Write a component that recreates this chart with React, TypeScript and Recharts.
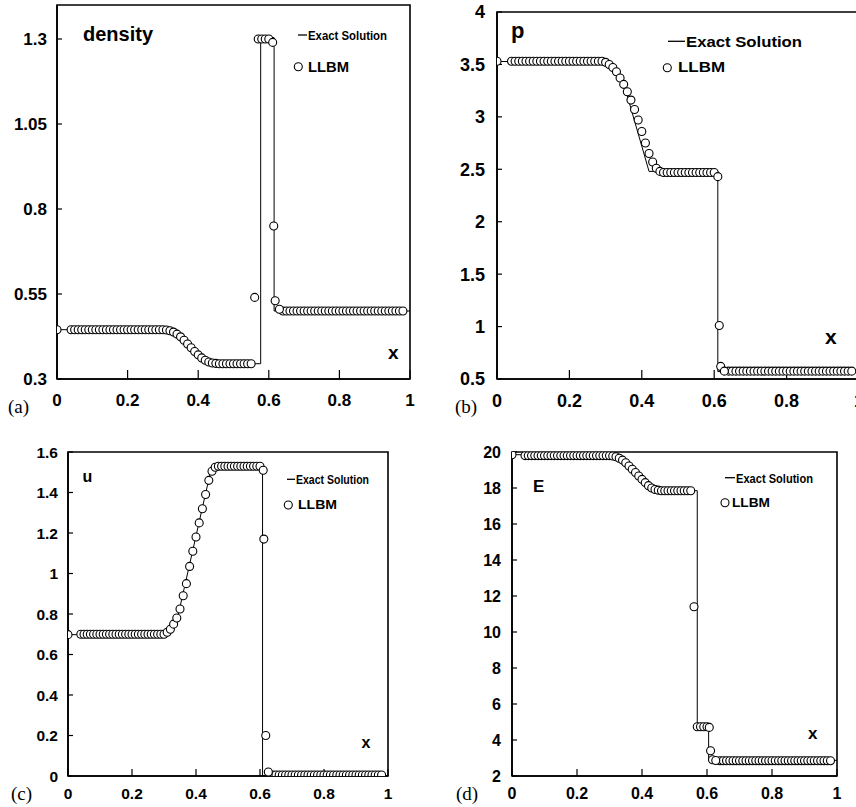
import React from "react";
import { ComposedChart, Line, Scatter, XAxis, YAxis, ReferenceArea } from "recharts";

// x axis ticks shared by the four panels
const xTicks = [0, 0.2, 0.4, 0.6, 0.8, 1];

// LLBM sample positions (common grid, shock points kept separately)
const llbmX = [
	0,
	0.04, 0.05, 0.06, 0.07, 0.08, 0.09, 0.1, 0.11, 0.12, 0.13, 0.14, 0.15, 0.16,
	0.17, 0.18, 0.19, 0.2, 0.21, 0.22, 0.23, 0.24, 0.25, 0.26, 0.27, 0.28, 0.29,
	0.3, 0.31, 0.32, 0.33, 0.34, 0.35, 0.36, 0.37, 0.38, 0.39, 0.4, 0.41, 0.42, 0.43, 0.44, 0.45,
	0.46, 0.47, 0.48, 0.49, 0.5, 0.51, 0.52, 0.53, 0.54, 0.55,
	0.56, 0.57, 0.58, 0.59, 0.6,
	0.64, 0.65, 0.66, 0.67, 0.68, 0.69, 0.7,
	0.71, 0.72, 0.73, 0.74, 0.75, 0.76, 0.77,
	0.78, 0.79, 0.8, 0.81, 0.82, 0.83, 0.84,
	0.85, 0.86, 0.87, 0.88, 0.89, 0.9, 0.91,
	0.92, 0.93, 0.94, 0.95, 0.96, 0.97, 0.98,
];

// (a) density
const densityLLBM = [
	0.445,
	0.445, 0.445, 0.445, 0.445, 0.445, 0.445, 0.445, 0.445, 0.445, 0.445, 0.445, 0.445, 0.445,
	0.445, 0.445, 0.445, 0.445, 0.445, 0.445, 0.445, 0.445, 0.445, 0.445, 0.445, 0.445, 0.445,
	0.445, 0.444, 0.442, 0.438, 0.432, 0.424, 0.414, 0.403, 0.392, 0.381, 0.371, 0.362, 0.355, 0.35, 0.347, 0.346,
	0.345, 0.345, 0.345, 0.345, 0.345, 0.345, 0.345, 0.345, 0.345, 0.345,
	0.54, 1.3, 1.3, 1.3, 1.3,
	0.5, 0.5, 0.5, 0.5, 0.5, 0.5, 0.5,
	0.5, 0.5, 0.5, 0.5, 0.5, 0.5, 0.5,
	0.5, 0.5, 0.5, 0.5, 0.5, 0.5, 0.5,
	0.5, 0.5, 0.5, 0.5, 0.5, 0.5, 0.5,
	0.5, 0.5, 0.5, 0.5, 0.5, 0.5, 0.5,
];
const densityShockX = [0.611, 0.614, 0.618, 0.63];
const densityShock = [1.29, 0.75, 0.53, 0.505];
const densityExactX = [0, 0.31, 0.33, 0.35, 0.37, 0.39, 0.41, 0.42, 0.577, 0.577, 0.615, 0.615, 1];
const densityExact = [0.445, 0.445, 0.43, 0.411, 0.392, 0.373, 0.355, 0.345, 0.345, 1.304, 1.304, 0.5, 0.5];

// (b) pressure
const pressureLLBM = [
	3.53,
	3.53, 3.53, 3.53, 3.53, 3.53, 3.53, 3.53, 3.53, 3.53, 3.53, 3.53, 3.53, 3.53,
	3.53, 3.53, 3.53, 3.53, 3.53, 3.53, 3.53, 3.53, 3.53, 3.53, 3.53, 3.53, 3.53,
	3.52, 3.5, 3.47, 3.43, 3.37, 3.31, 3.24, 3.16, 3.07, 2.97, 2.86, 2.75, 2.65, 2.57, 2.51, 2.48,
	2.47, 2.47, 2.47, 2.47, 2.47, 2.47, 2.47, 2.47, 2.47, 2.47,
	2.47, 2.47, 2.47, 2.47, 2.47,
	0.575, 0.575, 0.575, 0.575, 0.575, 0.575, 0.575,
	0.575, 0.575, 0.575, 0.575, 0.575, 0.575, 0.575,
	0.575, 0.575, 0.575, 0.575, 0.575, 0.575, 0.575,
	0.575, 0.575, 0.575, 0.575, 0.575, 0.575, 0.575,
	0.575, 0.575, 0.575, 0.575, 0.575, 0.575, 0.575,
];
const pressureShockX = [0.61, 0.614, 0.618, 0.628];
const pressureShock = [2.43, 1.01, 0.62, 0.575];
const pressureExactX = [0, 0.31, 0.32, 0.33, 0.34, 0.36, 0.38, 0.4, 0.42, 0.61, 0.61, 1];
const pressureExact = [3.528, 3.528, 3.5, 3.46, 3.4, 3.2, 2.96, 2.72, 2.48, 2.48, 0.571, 0.571];

// (c) velocity
const velocityLLBM = [
	0.698,
	0.7, 0.7, 0.7, 0.7, 0.7, 0.7, 0.7, 0.7, 0.7, 0.7, 0.7, 0.7, 0.7,
	0.7, 0.7, 0.7, 0.7, 0.7, 0.7, 0.7, 0.7, 0.7, 0.7, 0.7, 0.7, 0.7,
	0.7, 0.71, 0.725, 0.75, 0.78, 0.825, 0.89, 0.95, 1.035, 1.11, 1.18, 1.25, 1.32, 1.39, 1.46, 1.505,
	1.525, 1.53, 1.53, 1.53, 1.53, 1.53, 1.53, 1.53, 1.53, 1.53,
	1.53, 1.53, 1.53, 1.53, 1.53,
	0.005, 0.005, 0.005, 0.005, 0.005, 0.005, 0.005,
	0.005, 0.005, 0.005, 0.005, 0.005, 0.005, 0.005,
	0.005, 0.005, 0.005, 0.005, 0.005, 0.005, 0.005,
	0.005, 0.005, 0.005, 0.005, 0.005, 0.005, 0.005,
	0.005, 0.005, 0.005, 0.005, 0.005, 0.005, 0.005,
];
const velocityShockX = [0.61, 0.612, 0.618, 0.626];
const velocityShock = [1.51, 1.17, 0.2, 0.02];
const velocityExactX = [0, 0.31, 0.32, 0.335, 0.345, 0.449, 0.608, 0.608, 1];
const velocityExact = [0.698, 0.698, 0.705, 0.75, 0.8, 1.528, 1.528, 0, 0];

// (d) energy
const energyLLBM = [
	19.85,
	19.8, 19.8, 19.8, 19.8, 19.8, 19.8, 19.8, 19.8, 19.8, 19.8, 19.8, 19.8, 19.8,
	19.8, 19.8, 19.8, 19.8, 19.8, 19.8, 19.8, 19.8, 19.8, 19.8, 19.8, 19.8, 19.8,
	19.8, 19.78, 19.74, 19.65, 19.55, 19.4, 19.22, 19.04, 18.86, 18.67, 18.48, 18.3, 18.13, 18.0, 17.92, 17.88,
	17.85, 17.85, 17.85, 17.85, 17.85, 17.85, 17.85, 17.85, 17.85, 17.85,
	11.4, 4.74, 4.74, 4.74, 4.74,
	2.85, 2.85, 2.85, 2.85, 2.85, 2.85, 2.85,
	2.85, 2.85, 2.85, 2.85, 2.85, 2.85, 2.85,
	2.85, 2.85, 2.85, 2.85, 2.85, 2.85, 2.85,
	2.85, 2.85, 2.85, 2.85, 2.85, 2.85, 2.85,
	2.85, 2.85, 2.85, 2.85, 2.85, 2.85, 2.85,
];
const energyShockX = [0.607, 0.611, 0.617, 0.627];
const energyShock = [4.7, 3.4, 2.9, 2.86];
const energyExactX = [0, 0.31, 0.32, 0.34, 0.36, 0.38, 0.4, 0.42, 0.57, 0.57, 0.605, 0.605, 1];
const energyExact = [19.85, 19.85, 19.8, 19.55, 19.2, 18.8, 18.35, 17.85, 17.85, 4.74, 4.74, 2.87, 2.87];

const densityTicks = [0.3, 0.55, 0.8, 1.05, 1.3];
const pressureTicks = [0.5, 1, 1.5, 2, 2.5, 3, 3.5, 4];
const velocityTicks = [0, 0.2, 0.4, 0.6, 0.8, 1, 1.2, 1.4, 1.6];
const energyTicks = [2, 4, 6, 8, 10, 12, 14, 16, 18, 20];

const pairs = (xs: number[], ys: number[]) => xs.map((x, i) => ({ x, y: ys[i] }));

const SANS = "'Liberation Sans', Arial, Helvetica, sans-serif";
const SERIF = "'Liberation Serif', 'Times New Roman', serif";

const OpenCircle = (props: any) => (
	<circle cx={props.cx} cy={props.cy} r={4} fill="#fff" stroke="#000" strokeWidth={1.1} />
);

type PanelProps = {
	left: number;
	top: number;
	width: number;
	height: number;
	margin: { top: number; right: number; bottom: number; left: number };
	yWidth: number;
	yDomain: [number, number];
	yTicks: number[];
	exact: { x: number; y: number }[];
	llbm: { x: number; y: number }[];
	shock: { x: number; y: number }[];
	fontSize: number;
	xTickSize: number;
	xTickMargin: number;
	yTickMargin: number;
};

const Panel = (p: PanelProps) => {
	const tickStyle = { fill: "#000", fontSize: p.fontSize, fontWeight: "bold", fontFamily: SANS };
	return (
		<div style={{ position: "absolute", left: p.left, top: p.top }}>
			<ComposedChart width={p.width} height={p.height} margin={p.margin}>
				<XAxis
					type="number"
					dataKey="x"
					domain={[0, 1]}
					ticks={xTicks}
					height={30}
					tick={tickStyle}
					tickSize={-p.xTickSize}
					tickMargin={p.xTickMargin}
					tickLine={{ stroke: "#000", strokeWidth: 1.2 }}
					axisLine={{ stroke: "#000", strokeWidth: 1.6 }}
					allowDataOverflow
				/>
				<YAxis
					type="number"
					domain={p.yDomain}
					ticks={p.yTicks}
					width={p.yWidth}
					tick={tickStyle}
					tickSize={-5}
					tickMargin={p.yTickMargin}
					tickLine={{ stroke: "#000", strokeWidth: 1.2 }}
					axisLine={{ stroke: "#000", strokeWidth: 1.6 }}
					allowDataOverflow
				/>
				<ReferenceArea
					x1={0}
					x2={1}
					y1={p.yDomain[0]}
					y2={p.yDomain[1]}
					fill="none"
					stroke="#000"
					strokeWidth={1.6}
					ifOverflow="visible"
				/>
				<Line data={p.exact} dataKey="y" type="linear" stroke="#000" strokeWidth={1} dot={false} isAnimationActive={false} />
				<Scatter data={p.llbm} dataKey="y" shape={OpenCircle} isAnimationActive={false} />
				<Scatter data={p.shock} dataKey="y" shape={OpenCircle} isAnimationActive={false} />
			</ComposedChart>
		</div>
	);
};

const LegendBox = ({ lx1, lx2, ly, tx, ty, tw, tfs, cx, cy, lbx, lby, lbw, lbfs }: any) => (
	<g fontFamily={SANS} fontWeight="bold" fill="#000">
		<line x1={lx1} x2={lx2} y1={ly} y2={ly} stroke="#000" strokeWidth={1.3} />
		<text x={tx} y={ty} fontSize={tfs} textLength={tw} lengthAdjust="spacingAndGlyphs">Exact Solution</text>
		<circle cx={cx} cy={cy} r={4} fill="#fff" stroke="#000" strokeWidth={1.1} />
		<text x={lbx} y={lby} fontSize={lbfs} textLength={lbw} lengthAdjust="spacingAndGlyphs">LLBM</text>
	</g>
);

export default function App() {
	return (
		<div style={{ position: "fixed", left: 0, top: 0, width: 856, height: 807, overflow: "hidden", background: "#fff" }}>
			<Panel
				left={0} top={0} width={430} height={420}
				margin={{ top: 5, right: 20, bottom: 11, left: 0 }}
				yWidth={57} yDomain={[0.3, 1.4]} yTicks={densityTicks}
				exact={pairs(densityExactX, densityExact)}
				llbm={pairs(llbmX, densityLLBM)}
				shock={pairs(densityShockX, densityShock)}
				fontSize={17} xTickSize={9} xTickMargin={24} yTickMargin={15}
			/>
			<Panel
				left={430} top={0} width={440} height={420}
				margin={{ top: 12, right: 11, bottom: 11, left: 0 }}
				yWidth={67} yDomain={[0.5, 4]} yTicks={pressureTicks}
				exact={pairs(pressureExactX, pressureExact)}
				llbm={pairs(llbmX, pressureLLBM)}
				shock={pairs(pressureShockX, pressureShock)}
				fontSize={18} xTickSize={9} xTickMargin={24} yTickMargin={17}
			/>
			<Panel
				left={0} top={410} width={430} height={397}
				margin={{ top: 42, right: 42, bottom: 1, left: 0 }}
				yWidth={68} yDomain={[0, 1.6]} yTicks={velocityTicks}
				exact={pairs(velocityExactX, velocityExact)}
				llbm={pairs(llbmX, velocityLLBM)}
				shock={pairs(velocityShockX, velocityShock)}
				fontSize={15.5} xTickSize={7} xTickMargin={18.5} yTickMargin={15}
			/>
			<Panel
				left={430} top={410} width={426} height={397}
				margin={{ top: 42, right: 19, bottom: 1, left: 0 }}
				yWidth={82} yDomain={[2, 20]} yTicks={energyTicks}
				exact={pairs(energyExactX, energyExact)}
				llbm={pairs(llbmX, energyLLBM)}
				shock={pairs(energyShockX, energyShock)}
				fontSize={16} xTickSize={7} xTickMargin={18.5} yTickMargin={16}
			/>
			<svg width={856} height={807} style={{ position: "absolute", left: 0, top: 0, pointerEvents: "none" }}>
				<g fontFamily={SANS} fontWeight="bold" fill="#000">
					<text x={83} y={41} fontSize={20}>density</text>
					<text x={511} y={37.5} fontSize={22}>p</text>
					<text x={82.5} y={482} fontSize={16}>u</text>
					<text x={533} y={491.5} fontSize={17}>E</text>
					<text x={388} y={358.5} fontSize={19}>x</text>
					<text x={825} y={343.5} fontSize={21}>x</text>
					<text x={361.5} y={747.5} fontSize={16}>x</text>
					<text x={808} y={738.5} fontSize={17}>x</text>
				</g>
				<g fontFamily={SERIF} fill="#000" fontSize={19}>
					<text x={8} y={413}>(a)</text>
					<text x={455} y={413}>(b)</text>
					<text x={11} y={800}>(c)</text>
					<text x={456} y={800}>(d)</text>
				</g>
				<LegendBox lx1={298} lx2={307} ly={35} tx={308} ty={39.5} tw={79} tfs={12.5}
					cx={298.3} cy={66.7} lbx={308} lby={71.7} lbw={41} lbfs={14} />
				<LegendBox lx1={668} lx2={685} ly={41.3} tx={686} ty={46.5} tw={116} tfs={14.5}
					cx={667.3} cy={67.7} lbx={678} lby={72.3} lbw={47} lbfs={15} />
				<LegendBox lx1={287} lx2={295} ly={479.3} tx={296} ty={484} tw={73} tfs={12.5}
					cx={288.3} cy={505} lbx={298} lby={509.3} lbw={39} lbfs={13.5} />
				<LegendBox lx1={725} lx2={735} ly={477.7} tx={736} ty={482.5} tw={77} tfs={13}
					cx={725} cy={502.7} lbx={732} lby={506.5} lbw={38} lbfs={13} />
			</svg>
		</div>
	);
}
